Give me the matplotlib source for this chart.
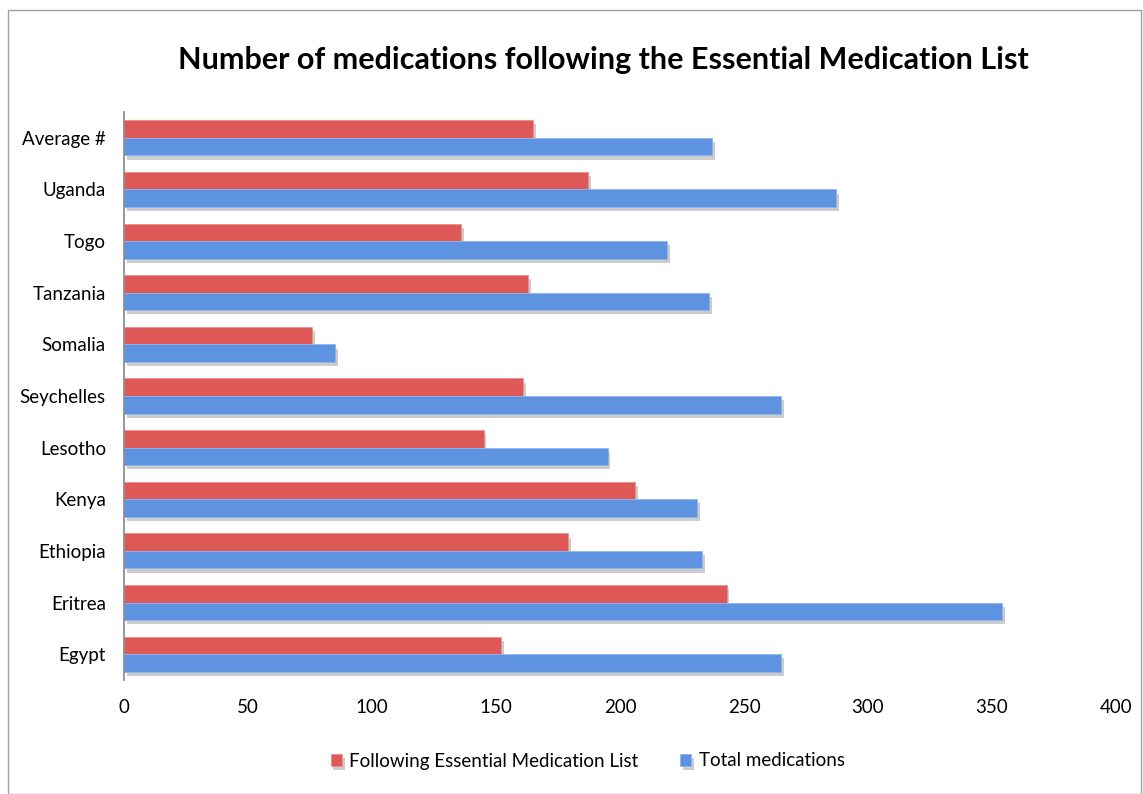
import matplotlib.pyplot as plt
import matplotlib.patheffects as pe
from matplotlib.patches import Rectangle
import numpy as np

# Data (bottom to top)
countries = ["Egypt", "Eritrea", "Ethiopia", "Kenya", "Lesotho", "Seychelles",
             "Somalia", "Tanzania", "Togo", "Uganda", "Average #"]
following_eml = [152, 243, 179, 206, 145, 161, 76, 163, 136, 187, 165]
total_meds = [265, 354, 233, 231, 195, 265, 85, 236, 219, 287, 237]

plt.rcParams["font.family"] = ["Lato", "DejaVu Sans"]

fig = plt.figure(figsize=(11.43, 7.94), dpi=100)
ax = fig.add_axes([124 / 1143, 1 - 680 / 794, (1116 - 124) / 1143, (680 - 112) / 794])

y = np.arange(len(countries))
h = 0.34
shadow = [pe.SimplePatchShadow(offset=(2, -3), shadow_rgbFace="#8f8f8f", alpha=0.45), pe.Normal()]

red_bars = ax.barh(y + h / 2, following_eml, height=h, color="#DD5856",
                   edgecolor="#F28E8C", linewidth=0.6, label="Following Essential Medication List")
blue_bars = ax.barh(y - h / 2, total_meds, height=h, color="#5D93E0",
                    edgecolor="#8DB6EF", linewidth=0.6, label="Total medications")
for b in list(red_bars) + list(blue_bars):
    b.set_path_effects(shadow)

ax.set_xlim(0, 400)
ax.set_ylim(-0.5, len(countries) - 0.5)
ax.set_xticks(range(0, 401, 50))
ax.set_yticks(y)
ax.set_yticklabels(countries)
ax.tick_params(axis="both", length=0, labelsize=13.5)
ax.tick_params(axis="x", pad=14)
ax.tick_params(axis="y", pad=13)
for s in ["top", "right", "bottom"]:
    ax.spines[s].set_visible(False)
ax.spines["left"].set_color("#868686")
ax.spines["left"].set_linewidth(1.2)

fig.text(0.528, 1 - 60 / 794, "Number of medications following the Essential Medication List",
         ha="center", va="center", fontsize=22, fontweight="bold")

fig.legend(handles=[red_bars, blue_bars], loc="center", bbox_to_anchor=(0.514, 1 - 761 / 794),
           ncol=2, frameon=False, fontsize=13.5, handlelength=0.6, handleheight=0.6,
           handletextpad=0.4, columnspacing=2.2)

fig.patches.append(Rectangle((8 / 1143, 0), 1 - 10 / 1143, 1 - 10 / 794, transform=fig.transFigure,
                             fill=False, edgecolor="#A0A0A0", linewidth=1))

fig.savefig("out.png", dpi=100)
